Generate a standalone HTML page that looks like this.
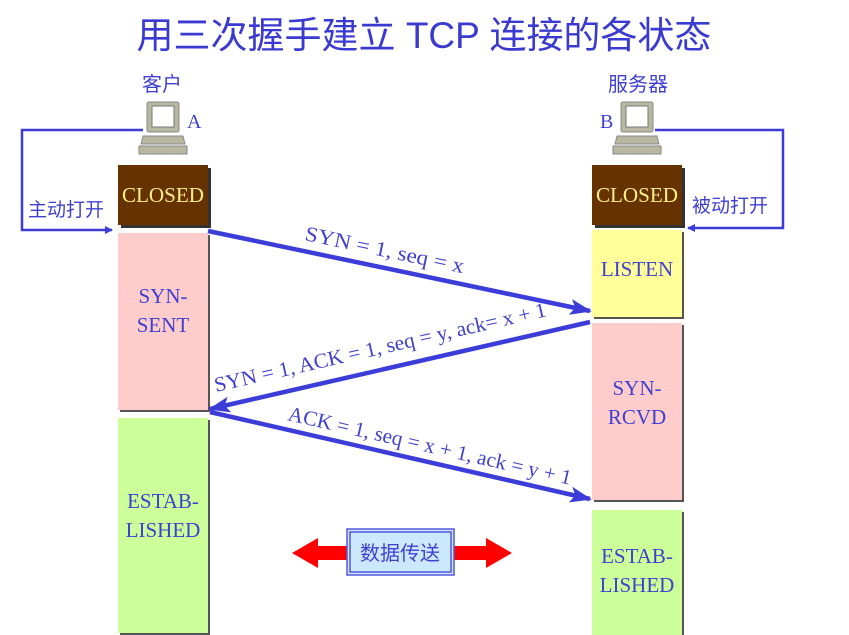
<!DOCTYPE html>
<html><head><meta charset="utf-8"><style>
body{margin:0;background:#fff;}
svg{display:block;font-family:"Liberation Sans","Noto Sans CJK SC",sans-serif;}
.s{font-family:"Liberation Serif","Noto Sans CJK SC",serif;}
</style></head><body>
<svg width="849" height="635" viewBox="0 0 849 635" xmlns="http://www.w3.org/2000/svg">
<defs>
<marker id="ah" markerWidth="8" markerHeight="8" refX="7" refY="4" orient="auto" markerUnits="userSpaceOnUse"><path d="M0,0 L8,4 L0,8 z" fill="#3c3cd8"/></marker>
<marker id="ab" markerWidth="22" markerHeight="16" refX="20" refY="8" orient="auto" markerUnits="userSpaceOnUse"><path d="M0,0 L22,8 L0,16 L5,8 z" fill="#3c3cd8"/></marker>
<g id="pc">
<rect x="4" y="0" width="32" height="30" rx="2" fill="#b8b8a0" stroke="#888" stroke-width="1"/>
<rect x="9" y="4" width="22" height="21" fill="#fff" stroke="#777"/>
<path d="M0,34 L40,34 L42,42 L-2,42 z" fill="#b8b8a0" stroke="#888"/>
<rect x="-4" y="44" width="48" height="8" fill="#b8b8a0" stroke="#888"/>
</g>
</defs>
<text x="424" y="48" font-size="37" fill="#3a3ad0" text-anchor="middle">用三次握手建立 TCP 连接的各状态</text>
<text x="162" y="91" font-size="20" fill="#4040d0" text-anchor="middle">客户</text>
<text x="638" y="91" font-size="20" fill="#4040d0" text-anchor="middle">服务器</text>
<text x="187" y="128" font-size="20" fill="#4040d0" class="s">A</text>
<text x="600" y="128" font-size="20" fill="#4040d0" class="s">B</text>
<use href="#pc" x="143" y="102"/>
<use href="#pc" x="617" y="102"/>
<path d="M143,130 L22,130 L22,230 L112,230" fill="none" stroke="#3c3cd8" stroke-width="2.5" marker-end="url(#ah)"/>
<path d="M655,130 L783,130 L783,228 L688,228" fill="none" stroke="#3c3cd8" stroke-width="2.5" marker-end="url(#ah)"/>
<text x="28" y="216" font-size="19" fill="#4040d0">主动打开</text>
<text x="692" y="212" font-size="19" fill="#4040d0">被动打开</text>
<rect x="121" y="168" width="90" height="60" fill="#333"/>
<rect x="118" y="165" width="90" height="60" fill="#663300"/>
<text x="163" y="202" font-size="21" fill="#ffee88" text-anchor="middle" class="s" textLength="82" lengthAdjust="spacingAndGlyphs">CLOSED</text>
<rect x="120" y="235" width="90" height="177" fill="#555"/>
<rect x="118" y="233" width="90" height="177" fill="#ffcccc"/>
<text x="163" y="303" font-size="21" fill="#4040d0" text-anchor="middle" class="s">SYN-</text>
<text x="163" y="332" font-size="21" fill="#4040d0" text-anchor="middle" class="s">SENT</text>
<rect x="120" y="420" width="90" height="215" fill="#555"/>
<rect x="118" y="418" width="90" height="215" fill="#ccff99"/>
<text x="163" y="508" font-size="21" fill="#4040d0" text-anchor="middle" class="s">ESTAB-</text>
<text x="163" y="537" font-size="21" fill="#4040d0" text-anchor="middle" class="s">LISHED</text>
<rect x="595" y="168" width="90" height="60" fill="#333"/>
<rect x="592" y="165" width="90" height="60" fill="#663300"/>
<text x="637" y="202" font-size="21" fill="#ffee88" text-anchor="middle" class="s" textLength="82" lengthAdjust="spacingAndGlyphs">CLOSED</text>
<rect x="594" y="232" width="90" height="87" fill="#555"/>
<rect x="592" y="230" width="90" height="87" fill="#ffff99"/>
<text x="637" y="276" font-size="21" fill="#4040d0" text-anchor="middle" class="s">LISTEN</text>
<rect x="594" y="325" width="90" height="177" fill="#555"/>
<rect x="592" y="323" width="90" height="177" fill="#ffcccc"/>
<text x="637" y="395" font-size="21" fill="#4040d0" text-anchor="middle" class="s">SYN-</text>
<text x="637" y="424" font-size="21" fill="#4040d0" text-anchor="middle" class="s">RCVD</text>
<rect x="594" y="512" width="90" height="123" fill="#555"/>
<rect x="592" y="510" width="90" height="125" fill="#ccff99"/>
<text x="637" y="563" font-size="21" fill="#4040d0" text-anchor="middle" class="s">ESTAB-</text>
<text x="637" y="592" font-size="21" fill="#4040d0" text-anchor="middle" class="s">LISHED</text>
<line x1="208" y1="231" x2="590" y2="311" stroke="#3c3cd8" stroke-width="4.5" marker-end="url(#ab)"/>
<text transform="translate(304,240) rotate(11.8)" font-size="21" fill="#4040d0" class="s" textLength="162" lengthAdjust="spacingAndGlyphs">SYN = 1, seq = x</text>
<line x1="590" y1="322" x2="210" y2="409" stroke="#3c3cd8" stroke-width="4.5" marker-end="url(#ab)"/>
<text transform="translate(216,392) rotate(-12.9)" font-size="21" fill="#4040d0" class="s" textLength="340" lengthAdjust="spacingAndGlyphs">SYN = 1, ACK = 1, seq = y, ack= x + 1</text>
<line x1="210" y1="412" x2="590" y2="499" stroke="#3c3cd8" stroke-width="4.5" marker-end="url(#ab)"/>
<text transform="translate(287,420) rotate(12.9)" font-size="21" fill="#4040d0" class="s" textLength="290" lengthAdjust="spacingAndGlyphs">ACK = 1, seq = x + 1, ack = y + 1</text>
<path d="M292,553 L318,538 L318,546 L350,546 L350,560 L318,560 L318,568 z" fill="#ff0000"/>
<path d="M512,553 L486,538 L486,546 L452,546 L452,560 L486,560 L486,568 z" fill="#ff0000"/>
<rect x="347" y="529" width="107" height="46" fill="#cce8ff" stroke="#5555dd" stroke-width="1.5"/>
<rect x="350" y="532" width="101" height="40" fill="none" stroke="#5555dd" stroke-width="1.5"/>
<text x="400" y="560" font-size="20" fill="#4040d0" text-anchor="middle">数据传送</text>
</svg>
</body></html>
